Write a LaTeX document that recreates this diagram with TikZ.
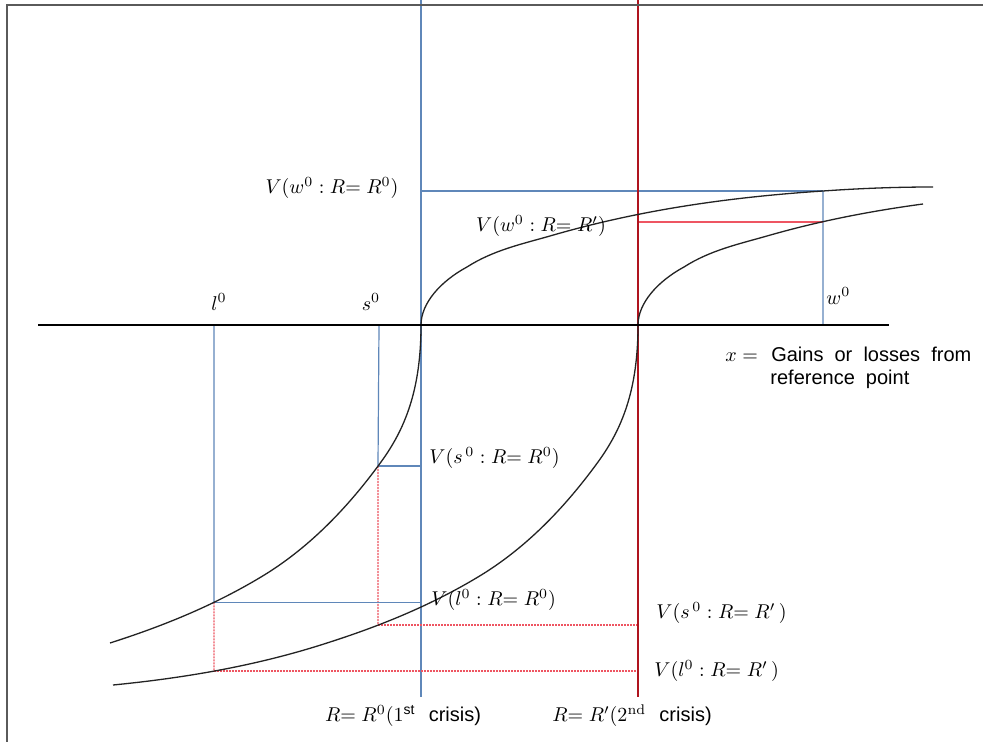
\documentclass[tikz,border=0pt]{standalone}
\usepackage{amsmath}
\usepackage{fontspec}
\newfontfamily\gfont{Liberation Sans}
\usetikzlibrary{intersections}
\pgfdeclarelayer{bg}
\pgfsetlayers{bg,main}
\definecolor{guideblue}{RGB}{95,135,185}
\definecolor{rdark}{RGB}{175,20,30}
\definecolor{rlight}{RGB}{238,85,98}
\definecolor{framegray}{RGB}{90,90,90}
\definecolor{curvecol}{RGB}{35,35,35}
\begin{document}
\begin{tikzpicture}[x=0.5pt,y=-0.5pt,
  curve/.style={draw=curvecol, line width=0.65pt},
  guide/.style={draw=guideblue, line width=0.6pt},
  rguide/.style={color=rlight, line width=0.7pt, dash pattern=on 1pt off 0.5pt},
  rsolid/.style={color=rlight, line width=0.9pt},
  lbl/.style={inner sep=0pt, font=\normalsize}]
\useasboundingbox (0,0) rectangle (983,742);
\begin{pgfonlayer}{bg}
\fill[white] (0,0) rectangle (983,742);
\end{pgfonlayer}
% frame
\coordinate (fTL) at (7,5);
\coordinate (fTR) at (983,5);
\coordinate (fBL) at (7,742);
\draw[framegray, line width=0.75pt] (fBL) -- (fTL) -- (fTR);
% key coordinates
\coordinate (R0top) at (421,0);
\coordinate (R0bot) at (421,697);
\coordinate (R1top) at (638,0);
\coordinate (R1bot) at (638,697);
\coordinate (axL) at (38,325);
\coordinate (axR) at (889,325);
\coordinate (wA) at (823,325);
\coordinate (sA) at (379,325);
\coordinate (lA) at (214,325);
% curve 1 (reference point R^0)
\begin{scope}[shift={(421,325)}]
\draw[curve, name path global=c1g] (0,0) .. controls (0,-22) and (20,-44) .. (46,-58)
  .. controls (72,-74.7) and (101,-81) .. (129,-89)
  .. controls (220,-115.6) and (311,-128) .. (402,-134)
  .. controls (439,-136.6) and (475,-138) .. (512,-138);
\draw[curve, name path global=c1l] (0,0) .. controls (0,65) and (-16,104) .. (-40,137)
  .. controls (-80,192) and (-120,228) .. (-160,252)
  .. controls (-210,282) and (-261,302) .. (-311,318);
\end{scope}
% curve 2 (reference point R')
\begin{scope}[shift={(638,325)}]
\draw[curve, name path global=c2g] (0,0) .. controls (0,-22) and (20,-44) .. (46,-58)
  .. controls (72,-74.7) and (101,-81) .. (129,-89)
  .. controls (181,-104) and (233,-114) .. (285,-121);
\draw[curve, name path global=c2l] (0,0) .. controls (0,65) and (-16,104) .. (-40,137)
  .. controls (-80,192) and (-120,228) .. (-160,252)
  .. controls (-210,282) and (-261,302) .. (-311,318)
  .. controls (-382,341) and (-454,353) .. (-525,360);
\end{scope}
% intersections
\path[name path=vw] (823,100) -- (823,400);
\path[name intersections={of=c1g and vw, by=w1}];
\path[name intersections={of=c2g and vw, by=w2}];
\path[name path=vs] (378,300) -- (378,720);
\path[name intersections={of=c1l and vs, by=s1}];
\path[name intersections={of=c2l and vs, by=s2}];
\path[name path=vl] (214,300) -- (214,720);
\path[name intersections={of=c1l and vl, by=l1}];
\path[name intersections={of=c2l and vl, by=l2}];
\coordinate (w2R) at (R1top |- w2);
\coordinate (s2R) at (R1top |- s2);
\coordinate (l2R) at (R1top |- l2);
\begin{pgfonlayer}{bg}
\draw[guide] (R0top) -- (R0bot);
\draw[guide] (wA) -- (w1);
\draw[guide] (R0top |- w1) -- (w1);
\draw[rsolid] (w2R) -- (w2);
\draw[guide] (sA) -- (s1);
\draw[guide] (s1) -- (R0top |- s1);
\draw[rguide] (s1) -- (s2);
\draw[rguide] (s2) -- (s2R);
\draw[guide] (lA) -- (l1);
\draw[guide] (l1) -- (R0top |- l1);
\draw[rguide] (l1) -- (l2);
\draw[rguide] (l2) -- (l2R);
\draw[draw=rdark, line width=0.75pt] (R1top) -- (R1bot);
\end{pgfonlayer}
\draw[black, line width=0.6pt] (axL) -- (axR);
% labels
\node[lbl] (tw0) at (332,188) {$V(w^0 : R{=}\; R^0)$};
\node[lbl] (tw1) at (541,226) {$V(w^0 : R{=}\; R')$};
\node[lbl] (tl) at (219,302) {$l^0$};
\node[lbl] (ts) at (371,302) {$s^0$};
\node[lbl, anchor=west] (tw) at (826,296) {$w^0$};
\node[lbl, anchor=base west] (tx1) at (725,362) {$x=$\ \ {\gfont Gains\ \ or\ \ losses\ \ from}};
\node[lbl, anchor=base west] (tx2) at (770,385) {\gfont reference\ \ point};
\node[lbl, anchor=west] (ts0) at (429,458) {$V(s^{\,0} : R{=}\; R^0)$};
\node[lbl, anchor=west] (tl0) at (431,600) {$V(l^0 : R{=}\; R^0)$};
\node[lbl, anchor=west] (ts1) at (656,613) {$V(s^{\,0} : R{=}\; R'\,)$};
\node[lbl, anchor=west] (tl1) at (654,671) {$V(l^0 : R{=}\; R'\,)$};
\node[lbl] (tR0) at (403,716) {$R{=}\; R^0(1^{\text{\gfont st}}$\ \ {\gfont crisis)}};
\node[lbl] (tR1) at (632,716) {$R{=}\; R'(2^{\mathrm{nd}}$\ \ {\gfont crisis)}};
\end{tikzpicture}
\end{document}
